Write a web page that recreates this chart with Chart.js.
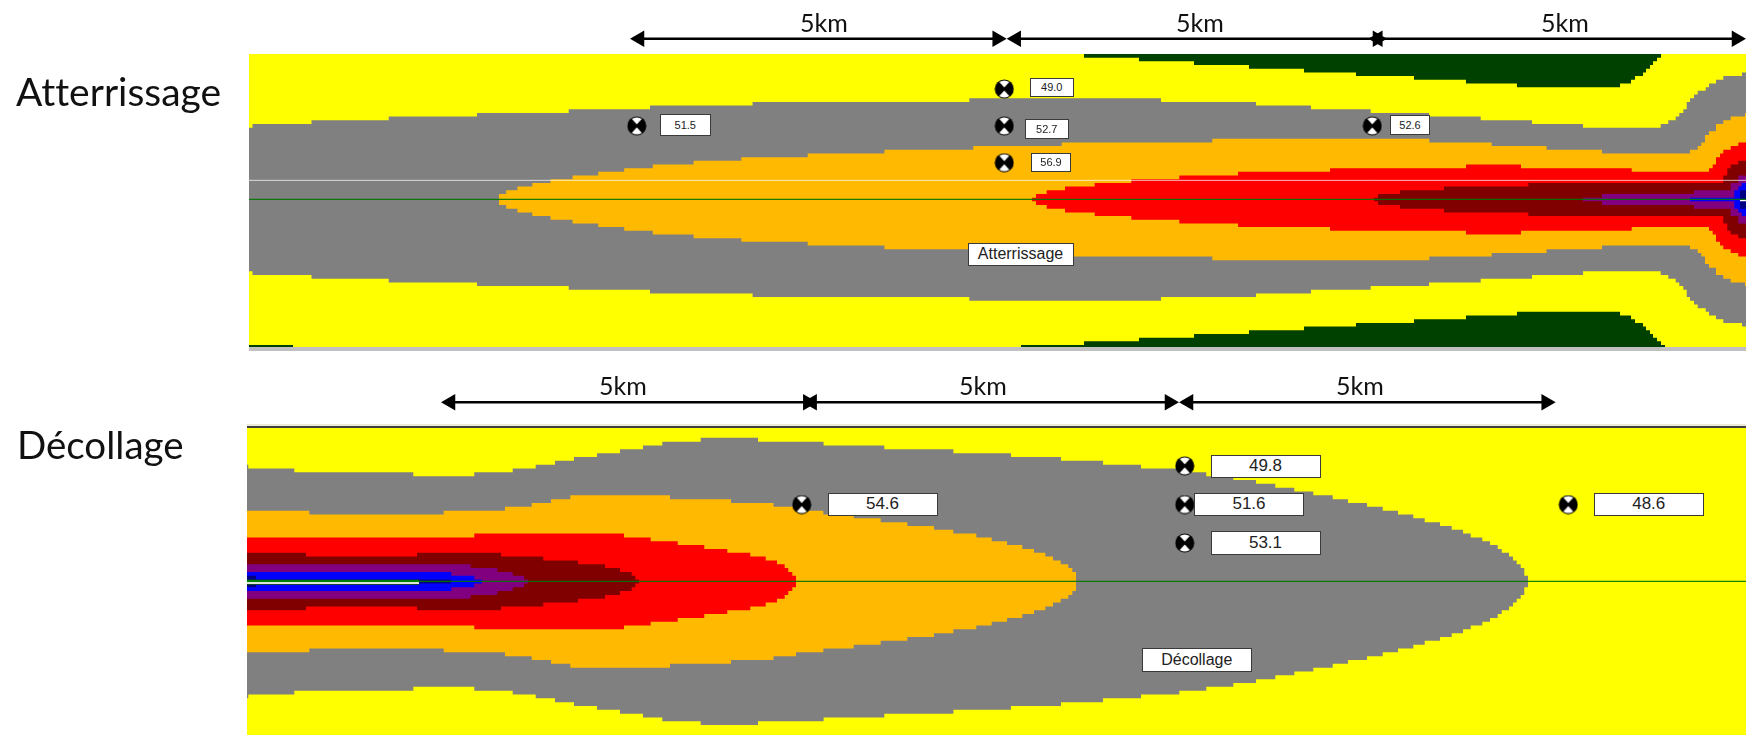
<!DOCTYPE html>
<html lang="fr">
<head>
<meta charset="utf-8">
<title>Atterrissage / Décollage</title>
<script src="https://cdn.jsdelivr.net/npm/chart.js@4/dist/chart.umd.min.js"></script>
<style>
  html, body { margin: 0; background: #fff; }
  #page { position: relative; width: 1746px; height: 735px; overflow: hidden; }
  canvas { position: absolute; left: 0; }
  .title { position: absolute; font: 39px/44px Lato, sans-serif; font-variant-ligatures: none; color: #111; white-space: nowrap; }
  .km { position: absolute; font: 25px/30px Lato, sans-serif; color: #111; transform: translateX(-50%); }
  .tag { position: absolute; box-sizing: border-box; background: #fff; border: 1.5px solid #3a3a3a; color: #222;
         font-family: "Liberation Sans", Arial, sans-serif; display: flex; align-items: center; justify-content: center; }
  .rule { position: absolute; }
</style>
</head>
<body>
<div id="page">
  <canvas id="landing" width="1746" height="347" style="top:0"></canvas>
  <canvas id="takeoff" width="1746" height="375" style="top:360px"></canvas>
  <div class="rule" style="left:249px;top:347px;width:1497px;height:4px;background:#c0c0c0"></div>
  <div class="rule" style="left:247px;top:424px;width:1499px;height:2px;background:#ece9d8"></div>
  <div class="rule" style="left:247px;top:426px;width:1499px;height:1.5px;background:#404040"></div>
</div>
<script>
// Contours: x = position along the track, n = cells either side of the centre cell.
// Each n holds from its x up to the next x.

// Atterrissage
const topYellowX = [249,293,1021,1084,1139,1194,1249,1304,1356,1414,1466,1517,1620,1631,1635,1643,1646,1650,1653,1657,1661,1665,1746];
const topYellowN = [39,41,39,38,37,36,35,34,33,32,31,30,31,32,33,34,35,36,37,38,39,41,41];
const topGreyX = [249,252.5,311.5,388.7,477,568.7,650,752.6,969.3,1161,1256,1311,1370.7,1429,1480.7,1532,1583,1660.7,1668.3,1675.7,1679.3,1683.3,1686.7,1690,1694,1697.7,1705.7,1709,1716,1723.3,1742,1746];
const topGreyN = [19,20,21,22,23,24,25,26,27,26,25,24,23,22,21,20,19,20,21,22,23,24,26,27,28,29,30,31,32,33,34,34];
const topOrangeX = [498.9,506.2,517.5,532.3,550.5,572.6,598.2,624.2,652.8,693.6,741.3,807.7,884.4,973.3,1061.7,1212.3,1429.3,1491.7,1546.5,1602,1690,1697.7,1701.3,1705,1709,1716,1723.3,1730.7,1745,1746];
const topOrangeN = [1,2,3,4,5,6,7,8,9,10,11,12,13,14,15,16,15,14,13,12,13,14,15,17,18,20,21,22,23,23];
const topRedX = [1032,1036,1046.7,1065,1094.7,1131.3,1179.3,1238,1330,1466,1521,1631.7,1709,1712.7,1716,1720,1723.3,1730.7,1738.3,1746];
const topRedN = [0,1,2,3,4,5,6,7,8,9,8,7,8,9,11,12,13,14,15,15];
const topDarkRedX = [1374,1378,1400,1444,1528.3,1723.3,1727.3,1730.7,1738.3,1746];
const topDarkRedN = [0,1,2,3,4,6,8,9,10,10];
const topPurpleX = [1583,1602,1694,1730.7,1738.3,1746];
const topPurpleN = [0,1,2,4,6,6];
const topBlueX = [1690,1734.3,1738.3,1741.7,1746];
const topBlueN = [0,2,3,4,4];
const topNavyX = [1740,1746];
const topNavyN = [2,2];

// Décollage
const botGreyX = [247,248.3,294.3,413.3,474.3,512.7,535.7,555,574,597,620,643,662.3,700.7,758,823.6,884.3,953.4,1011,1061,1103,1141,1179.3,1206.3,1233.3,1256,1275.3,1294.3,1313.3,1332.7,1348,1367,1382.7,1398,1413.3,1424.7,1440,1451.7,1463,1470.7,1482.3,1490,1497.7,1501.7,1509,1513,1516.7,1520.7,1524.3,1528];
const botGreyN = [30,29,28,27,28,29,30,31,32,33,34,35,36,37,36,35,34,33,32,31,30,29,28,27,26,25,24,23,22,21,20,19,18,17,16,15,14,13,12,11,10,9,8,7,6,5,4,3,1,1];
const botOrangeX = [247,309.3,443.7,505,531.7,551,570.3,670,731,773.5,796,823.3,853.7,880.7,907.3,934,953.3,976.3,991.7,1007,1022.3,1034,1045.3,1053,1060.7,1068.3,1072.3,1076];
const botOrangeN = [18,17,18,19,20,21,22,21,20,19,18,17,16,15,14,13,12,11,10,9,8,7,6,5,4,3,2,2];
const botRedX = [247,474.3,624,650.7,677.7,704.3,727.3,750.3,765.7,777,784.7,788.3,792.3,796];
const botRedN = [11,12,11,10,9,8,7,6,5,4,3,2,1,1];
const botDarkRedX = [247,306,417,501,543.3,578,605,620,631.7,635.3,639.3];
const botDarkRedN = [7,6,7,6,5,4,3,2,1,0,0];
const botPurpleX = [247,470.7,497.3,512.7,524,528];
const botPurpleN = [4,3,2,1,0,0];
const botBlueX = [247,451.3,474.3,482];
const botBlueN = [2,1,0,0];
const botNavyX = [247,256,451];
const botNavyN = [1,0,0];

// Measuring points
const topPointX = [636.8,1004.3,1004.3,1004.3,1372.3];
const topPointY = [20,30,20,10,20];
const topPointDb = ['51.5','49.0','52.7','56.9','52.6'];
const botPointX = [801.7,1184.7,1184.7,1184.7,1568.3];
const botPointY = [20.1,30.2,20.1,10.05,20.1];
const botPointDb = ['54.6','49.8','51.6','53.1','48.6'];

// 5km arrows, tips as [left, right]
const topSpans = [[630,1006.7],[1006.7,1387],[1368.3,1746]];
const botSpans = [[441,817.3],[802.6,1179],[1179,1555.7]];
const spanLabel = '5km';

const COLORS = { green: '#004100', yellow: '#ffff00', grey: '#808080', orange: '#ffb900', red: '#ff0000',
                 darkRed: '#800000', purple: '#800080', blue: '#0000ff', navy: '#000080' };
const HEAD = 9.5;

// cap = upper edge of the map, the y axis carries on above it for the arrows
function band(xs, ns, color, cap) {
  const line = y => ({
    data: xs.map((x, i) => ({ x, y: y(ns[i] + 0.5) })),
    stepped: true, borderWidth: 0, pointRadius: 0,
  });
  return [
    { ...line(v => Math.min(v, cap)), fill: '+1', backgroundColor: color },
    { ...line(v => -v), fill: false },
  ];
}

function straight(x0, x1, y, color, width) {
  return { data: [{ x: x0, y }, { x: x1, y }], borderColor: color, borderWidth: width, pointRadius: 0, fill: false };
}

function arrows(spans, y) {
  return spans.map(([a, b]) => ({
    data: [{ x: a + HEAD, y }, { x: b - HEAD, y }],
    borderColor: '#000', backgroundColor: '#000', borderWidth: 2.4, fill: false,
    pointStyle: 'triangle', pointRadius: HEAD, pointBorderWidth: 0, pointRotation: [-90, 90],
  }));
}

// the point image is drawn at its own size
function markerImage() {
  const c = document.createElement('canvas');
  c.width = c.height = 20;
  const g = c.getContext('2d');
  g.fillStyle = '#000';
  g.beginPath(); g.arc(10, 10, 9.5, 0, Math.PI * 2); g.fill();
  g.fillStyle = '#fff';
  [-1, 1].forEach(s => {
    g.beginPath();
    g.moveTo(10, 10 + s * 1.5);
    g.lineTo(5, 10 + s * 7);
    g.quadraticCurveTo(10, 10 + s * 10, 15, 10 + s * 7);
    g.closePath();
    g.fill();
  });
  return c;
}

const marker = markerImage();

function points(xs, ys) {
  return {
    data: xs.map((x, i) => ({ x, y: ys[i] })), showLine: false, fill: false,
    pointStyle: marker, pointRadius: 10,
  };
}

function drawPanel(id, left, yMax, yMin, datasets) {
  return new Chart(document.getElementById(id), {
    type: 'line',
    data: { datasets },
    options: {
      responsive: false, animation: false, events: [],
      layout: { autoPadding: false, padding: { left, top: 0, right: 0, bottom: 0 } },
      plugins: { legend: { display: false }, tooltip: { enabled: false } },
      scales: {
        x: { type: 'linear', display: false, min: left, max: 1746 },
        y: { display: false, min: yMin, max: yMax },
      },
    },
  });
}

const TOP_CAP = 39.5;
const BOT_CAP = 40.2;

// first dataset ends up on top
drawPanel('landing', 249, 54.16, -40.044, [
  points(topPointX, topPointY),
  ...arrows(topSpans, 43.65),
  straight(249, 1746, 0.05, 'rgba(0,118,0,0.9)', 1.3),
  straight(1740, 1746, -0.27, '#ffffff', 1.5),
  straight(249, 1746, 5.2, 'rgba(255,255,255,0.72)', 1),
  ...band(topNavyX, topNavyN, COLORS.navy, TOP_CAP),
  ...band(topBlueX, topBlueN, COLORS.blue, TOP_CAP),
  ...band(topPurpleX, topPurpleN, COLORS.purple, TOP_CAP),
  ...band(topDarkRedX, topDarkRedN, COLORS.darkRed, TOP_CAP),
  ...band(topRedX, topRedN, COLORS.red, TOP_CAP),
  ...band(topOrangeX, topOrangeN, COLORS.orange, TOP_CAP),
  ...band(topGreyX, topGreyN, COLORS.grey, TOP_CAP),
  ...band(topYellowX, topYellowN, COLORS.yellow, TOP_CAP),
  ...band([249, 1746], [41, 41], COLORS.green, TOP_CAP),
]);

drawPanel('takeoff', 247, 57.83, -40.08, [
  points(botPointX, botPointY),
  ...arrows(botSpans, 46.8),
  straight(247, 419, 0.18, '#008000', 2.2),
  straight(247, 419, -0.42, '#dbe8db', 2),
  straight(247, 419, -0.75, '#14501e', 1),
  straight(247, 1746, 0.05, 'rgba(0,118,0,0.9)', 1.3),
  ...band(botNavyX, botNavyN, COLORS.navy, BOT_CAP),
  ...band(botBlueX, botBlueN, COLORS.blue, BOT_CAP),
  ...band(botPurpleX, botPurpleN, COLORS.purple, BOT_CAP),
  ...band(botDarkRedX, botDarkRedN, COLORS.darkRed, BOT_CAP),
  ...band(botRedX, botRedN, COLORS.red, BOT_CAP),
  ...band(botOrangeX, botOrangeN, COLORS.orange, BOT_CAP),
  ...band(botGreyX, botGreyN, COLORS.grey, BOT_CAP),
  ...band([247, 1746], [41, 41], COLORS.yellow, BOT_CAP),
]);

// Text on top of the canvases
const page = document.getElementById('page');

function addText(cls, text, style) {
  const el = document.createElement('div');
  el.className = cls;
  el.textContent = text;
  Object.assign(el.style, style);
  page.appendChild(el);
}

addText('title', 'Atterrissage', { left: '16px', top: '69px' });
addText('title', 'Décollage', { left: '17px', top: '422px', fontSize: '38.5px' });

[[824, 7], [1200, 7], [1565, 7], [623, 370], [983, 370], [1360, 370]].forEach(([x, y]) => {
  addText('km', spanLabel, { left: x + 'px', top: y + 'px' });
});

function addTag(text, x0, x1, y0, y1, size) {
  addText('tag', text, { left: x0 + 'px', top: y0 + 'px', width: x1 - x0 + 'px', height: y1 - y0 + 'px', fontSize: size + 'px' });
}

addTag(topPointDb[0], 660, 710.5, 113.5, 136, 11);
addTag(topPointDb[1], 1030, 1073.5, 77.5, 96.5, 11);
addTag(topPointDb[2], 1025, 1068.5, 118.5, 138.5, 11);
addTag(topPointDb[3], 1031, 1071, 152.5, 172, 11);
addTag(topPointDb[4], 1390, 1430, 114.5, 135, 11);
addTag('Atterrissage', 967.5, 1073.5, 243, 265.5, 16);

addTag(botPointDb[0], 827.5, 937.5, 492.5, 516, 17);
addTag(botPointDb[1], 1210.5, 1320.5, 455, 477.5, 17);
addTag(botPointDb[2], 1194, 1304, 492.5, 516, 17);
addTag(botPointDb[3], 1210.5, 1320.5, 531, 554.5, 17);
addTag(botPointDb[4], 1593.5, 1704, 492.5, 516, 17);
addTag('Décollage', 1141.5, 1252, 648, 672, 16);
</script>
</body>
</html>
